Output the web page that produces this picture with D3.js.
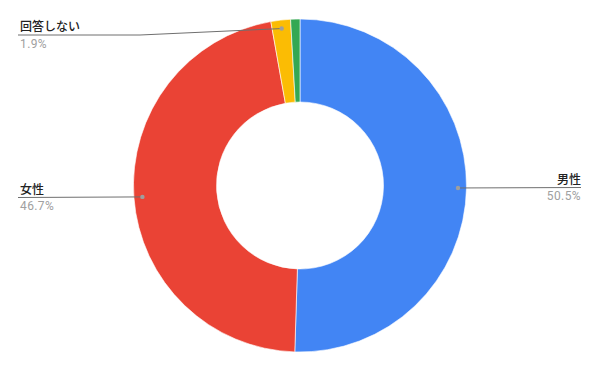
<!DOCTYPE html>
<html><head><meta charset="utf-8">
<script src="https://cdn.jsdelivr.net/npm/d3@7"></script>
<style>html,body{margin:0;padding:0;background:#fff;}</style>
</head><body>
<svg id="c" width="600" height="371"></svg>
<script>
const categories = ["男性", "女性", "回答しない", "その他"];
const values = [50.5, 46.7, 1.9, 0.9];
const percentLabels = ["50.5%", "46.7%", "1.9%", null];
const colors = ["#4285F4", "#EA4335", "#FBBC04", "#34A853"];

const svg = d3.select("#c");
const cx = 300, cy = 185.5, R = 166.5, r = 83.5;
const g = svg.append("g").attr("transform", `translate(${cx},${cy})`);
const pie = d3.pie().sort(null).value(d => d)(values);
const arc = d3.arc().innerRadius(r).outerRadius(R);
g.selectAll("path").data(pie).join("path")
  .attr("d", arc).attr("fill", (d,i) => colors[i])
  .attr("stroke", "#fff").attr("stroke-width", 0.6);

const dotArc = d3.arc().innerRadius(158).outerRadius(158);
const layout = [
  {side: "right", y: 187.5},
  {side: "left", y: 197.5},
  {side: "left", y: 35, knee: 140}
];
layout.forEach((L, i) => {
  const p = dotArc.centroid(pie[i]);
  const px = cx + p[0], py = cy + p[1];
  let pts;
  if (L.side === "right") pts = [[px, py], [581, L.y]];
  else if (L.knee) pts = [[18, L.y], [L.knee, L.y], [px, py]];
  else pts = [[18, L.y], [px, py]];
  svg.append("path").attr("d", d3.line()(pts)).attr("fill", "none")
    .attr("stroke", "#6f6f6f").attr("stroke-width", 1);
  svg.append("circle").attr("cx", px).attr("cy", py).attr("r", 2.2).attr("fill", "#9e9e9e");
  const tx = L.side === "right" ? 581 : 20;
  const anchor = L.side === "right" ? "end" : "start";
  svg.append("text").attr("x", tx).attr("y", L.y - 4).attr("text-anchor", anchor)
    .attr("font-family", "'Noto Sans CJK JP', sans-serif").attr("font-size", 12)
    .attr("font-weight", 500).attr("fill", "#222").text(categories[i]);
  svg.append("text").attr("x", tx).attr("y", L.y + 12.5).attr("text-anchor", anchor)
    .attr("font-family", "Roboto, 'Liberation Sans', sans-serif").attr("font-size", 12)
    .attr("letter-spacing", 0.4).attr("fill", "#a0a0a0").text(percentLabels[i]);
});
</script>
</body></html>
